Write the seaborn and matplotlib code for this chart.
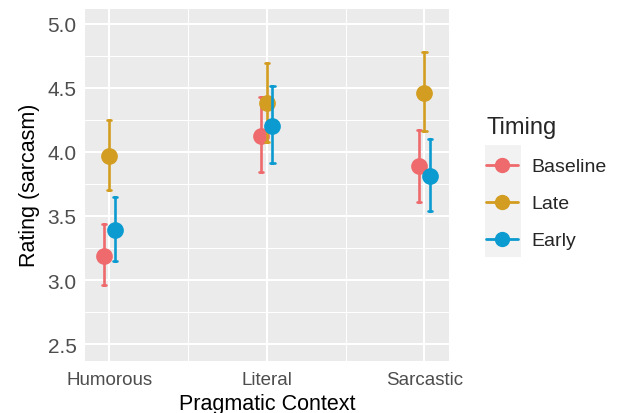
import matplotlib
matplotlib.use("Agg")
import matplotlib.pyplot as plt
import matplotlib.patches as mpatches
from matplotlib.lines import Line2D
import pandas as pd
import seaborn as sns

# values
contexts = ["Humorous", "Literal", "Sarcastic"]
timings = ["Baseline", "Late", "Early"]
means = {
    "Baseline": [3.19, 4.12, 3.89],
    "Late": [3.97, 4.38, 4.46],
    "Early": [3.39, 4.20, 3.81],
}
lower = {
    "Baseline": [2.96, 3.84, 3.61],
    "Late": [3.70, 4.08, 4.16],
    "Early": [3.15, 3.91, 3.54],
}
upper = {
    "Baseline": [3.44, 4.43, 4.17],
    "Late": [4.25, 4.69, 4.78],
    "Early": [3.65, 4.51, 4.10],
}
colors = ["#EE6A6C", "#D29D20", "#0C9BD0"]
y_ticks = [2.5, 3.0, 3.5, 4.0, 4.5, 5.0]

# long table: lower / mean / upper per cell, median gives the mean, range gives the bar
rows = []
for t in timings:
    for i, c in enumerate(contexts):
        for v in (lower[t][i], means[t][i], upper[t][i]):
            rows.append({"context": c, "timing": t, "rating": v})
df = pd.DataFrame(rows)

sns.set_theme(style="darkgrid")
plt.rcParams["font.family"] = ["Liberation Sans", "DejaVu Sans"]

fig, ax = plt.subplots(figsize=(6.19, 4.14), dpi=100)
fig.subplots_adjust(left=0.137, right=0.725, top=0.977, bottom=0.126)

sns.pointplot(
    data=df, x="context", y="rating", hue="timing",
    order=contexts, hue_order=timings, palette=colors,
    estimator="median", errorbar=lambda v: (v.min(), v.max()),
    dodge=0.07, linestyle="none", capsize=0.028,
    markersize=10, err_kws={"linewidth": 1.9},
    ax=ax, legend=False,
)

ax.set_facecolor("#EBEBEB")
ax.set_xlim(-0.155, 2.155)
ax.set_ylim(2.37, 5.117)
ax.set_yticks(y_ticks)
ax.set_yticklabels([f"{v:.1f}" for v in y_ticks])
ax.set_yticks([2.75, 3.25, 3.75, 4.25, 4.75], minor=True)
ax.set_xticks([0.5, 1.5], minor=True)
ax.grid(which="major", color="white", linewidth=1.5)
ax.grid(which="minor", color="white", linewidth=0.75)
ax.set_axisbelow(True)
for s in ax.spines.values():
    s.set_visible(False)

ax.tick_params(axis="both", which="major", length=4, width=1.1, color="#333333",
               labelcolor="#4D4D4D")
ax.tick_params(axis="y", labelsize=15, pad=2)
ax.tick_params(axis="x", labelsize=13.5, pad=3)
ax.tick_params(which="minor", length=0)

ax.set_xlabel("Pragmatic Context", fontsize=15.5, color="black", labelpad=4)
ax.set_ylabel("Rating (sarcasm)", fontsize=15.5, color="black", labelpad=5)

# legend in ggplot style (point + line keys)
handles = [Line2D([], [], color=col, marker="o", markersize=10, linewidth=2)
           for col in colors]
leg = fig.legend(
    handles, timings, title="Timing", loc="upper left",
    bbox_to_anchor=(0.757, 0.759), frameon=False,
    fontsize=14, title_fontsize=17, handlelength=1.65,
    handletextpad=0.7, labelspacing=1.0, alignment="left",
)
fig.add_artist(mpatches.Rectangle((485 / 619, 1 - 258 / 414), 36 / 619, 112 / 414,
                                  transform=fig.transFigure, facecolor="#F2F2F2",
                                  edgecolor="none", zorder=0))

fig.savefig("out.png", dpi=100)
